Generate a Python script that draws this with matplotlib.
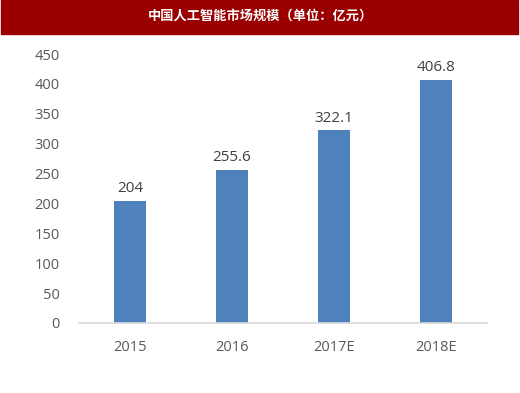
import matplotlib
matplotlib.use("Agg")
import matplotlib.pyplot as plt
from matplotlib.patches import Rectangle

plt.rcParams['font.family'] = ['Open Sans', 'Noto Sans CJK SC', 'DejaVu Sans']

years = ['2015', '2016', '2017E', '2018E']
values = [204, 255.6, 322.1, 406.8]
value_labels = ['204', '255.6', '322.1', '406.8']
title = '中国人工智能市场规模（单位：亿元）'

fig = plt.figure(figsize=(5.2, 3.93), dpi=100)

# red title bar
fig.patches.append(Rectangle((1/520, 1 - 34/393), 517/520, 34/393,
                             transform=fig.transFigure, color='#9B0000', zorder=0))
fig.text(0.5, 1 - 16/393, title, color='white', fontsize=9.5, fontweight='bold',
         ha='center', va='center', family=['Noto Sans CJK SC', 'DejaVu Sans'])

ax = fig.add_axes([79/520, 1 - 323/393, 408/520, 269/393])
x = range(len(years))
ax.bar(x, values, width=0.31, color='#4F81BD')
for i, v in enumerate(values):
    ax.text(i, v + 8, value_labels[i], ha='center', va='bottom', fontsize=11, color='#404040')

ax.set_xlim(-0.5, 3.5)
ax.set_ylim(0, 450)
ax.set_yticks(range(0, 451, 50))
ax.set_xticks(list(x))
ax.set_xticklabels(years)
for s in ['top', 'right', 'left']:
    ax.spines[s].set_visible(False)
ax.spines['bottom'].set_color('#D9D9D9')
ax.spines['bottom'].set_linewidth(1.2)
ax.tick_params(axis='both', length=0, labelsize=10.5, labelcolor='#595959')
ax.tick_params(axis='y', pad=14)
ax.tick_params(axis='x', pad=12)

plt.savefig('out.png', dpi=100)
